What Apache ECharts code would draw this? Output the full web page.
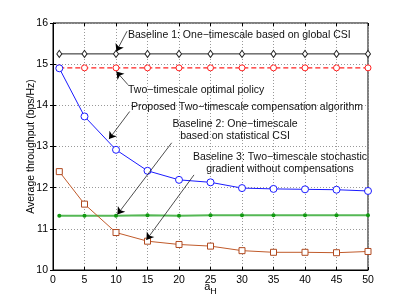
<!DOCTYPE html>
<html><head><meta charset="utf-8">
<script src="https://cdn.jsdelivr.net/npm/echarts@6/dist/echarts.min.js"></script>
<style>html,body{margin:0;padding:0;background:#fff}#c{width:407px;height:304px}</style>
</head><body><div id="c"></div>
<script>
var xs = [1,5,10,15,20,25,30,35,40,45,50];
var baseline1 = [15.25,15.25,15.25,15.25,15.25,15.25,15.25,15.25,15.25,15.25,15.25];
var optimal = [14.91,14.91,14.91,14.91,14.91,14.91,14.91,14.91,14.91,14.91,14.91];
var proposed = [14.9,13.73,12.92,12.41,12.19,12.13,11.99,11.97,11.96,11.95,11.92];
var baseline2 = [11.32,11.32,11.32,11.33,11.32,11.33,11.33,11.33,11.33,11.33,11.33];
var baseline3 = [12.39,11.6,10.91,10.70,10.62,10.58,10.47,10.43,10.43,10.42,10.45];
var xTicks = [0,5,10,15,20,25,30,35,40,45,50];
var yTicks = [10,11,12,13,14,15,16];
var arrows = [
  [[11.75,15.80],[10.06,15.31]],
  [[11.9,14.50],[10.06,14.82]],
  [[12.17,13.85],[8.89,13.18]],
  [[18.84,13.09],[10.22,11.35]],
  [[22.38,12.31],[14.83,10.73]]
];
function pairs(v){return xs.map(function(x,i){return [x,v[i]];});}
var font = 'Liberation Sans, Arial, sans-serif';
var chart = echarts.init(document.getElementById('c'));
function txt(x,y,s,align){return {type:'text',x:x,y:y,style:{text:s,font:'10.5px '+font,fill:'#111',textAlign:align||'left',textVerticalAlign:'middle'},z:100};}
var axCommon = {
  axisLine:{show:true,lineStyle:{color:'#000'}},
  axisTick:{inside:true,length:3,lineStyle:{color:'#000'}},
  axisLabel:{fontFamily:font,fontSize:10.5,color:'#000',margin:5},
  splitLine:{show:true,lineStyle:{type:[1,2],color:'#999'}}
};
chart.setOption({
  animation:false,
  grid:{left:53,right:39,top:23,bottom:34,show:true,borderColor:'#000',borderWidth:1,outerBoundsMode:'none',containLabel:false},
  xAxis:[
    Object.assign({type:'value',min:0,max:50,interval:5,
      name:'a{s|H}',nameLocation:'middle',nameGap:7,nameMoveOverlap:false,
      nameTextStyle:{fontFamily:font,fontSize:11,color:'#000',rich:{s:{fontFamily:font,fontSize:9,color:'#000',padding:[10,0,0,0]}}}
    },axCommon),
    {type:'value',min:0,max:50,interval:5,position:'top',axisLine:{show:false},axisTick:{inside:true,length:3,lineStyle:{color:'#000'}},axisLabel:{show:false},splitLine:{show:false}}
  ],
  yAxis:[
    Object.assign({type:'value',min:10,max:16,interval:1,
      name:'Average throughput (bps/Hz)',nameLocation:'middle',nameGap:16,nameMoveOverlap:false,
      nameTextStyle:{fontFamily:font,fontSize:10.5,color:'#000'}
    },axCommon),
    {type:'value',min:10,max:16,interval:1,position:'right',axisLine:{show:false},axisTick:{inside:true,length:3,lineStyle:{color:'#000'}},axisLabel:{show:false},splitLine:{show:false}}
  ],
  series:[
    {type:'line',data:pairs(baseline1),symbol:'diamond',symbolSize:[5,7],
      lineStyle:{color:'#222',width:1},itemStyle:{color:'#fff',borderColor:'#222',borderWidth:1},
      markLine:{silent:true,animation:false,lineStyle:{color:'#000',width:0.7,type:'solid'},label:{show:false},
        symbol:['none','arrow'],symbolSize:7,
        data:arrows.map(function(a){return [{coord:a[0]},{coord:a[1]}];})}},
    {type:'line',data:pairs(optimal),symbol:'circle',symbolSize:6,
      lineStyle:{color:'#ff2020',width:1.2,type:[5,3]},itemStyle:{color:'#fff',borderColor:'#ff2020',borderWidth:1}},
    {type:'line',data:pairs(proposed),symbol:'circle',symbolSize:7,
      lineStyle:{color:'#1a1aff',width:1},itemStyle:{color:'#fff',borderColor:'#1a1aff',borderWidth:1}},
    {type:'line',data:pairs(baseline2),symbol:'circle',symbolSize:4,
      lineStyle:{color:'#55b855',width:2},itemStyle:{color:'#119911',borderColor:'#119911',borderWidth:0}},
    {type:'line',data:pairs(baseline3),symbol:'rect',symbolSize:6,
      lineStyle:{color:'#c05a2a',width:1},itemStyle:{color:'#fff',borderColor:'#b04a20',borderWidth:1}}
  ],
  graphic:[
    txt(128,35,'Baseline 1: One\u2212timescale based on global CSI'),
    txt(128,90,'Two\u2212timescale optimal policy'),
    txt(131,107,'Proposed Two\u2212timescale compensation algorithm'),
    txt(235,124,'Baseline 2: One\u2212timescale','center'),
    txt(235,136,'based on statistical CSI','center'),
    txt(280,157,'Baseline 3: Two\u2212timescale stochastic','center'),
    txt(280,169,'gradient without compensations','center')
  ]
});
</script></body></html>
